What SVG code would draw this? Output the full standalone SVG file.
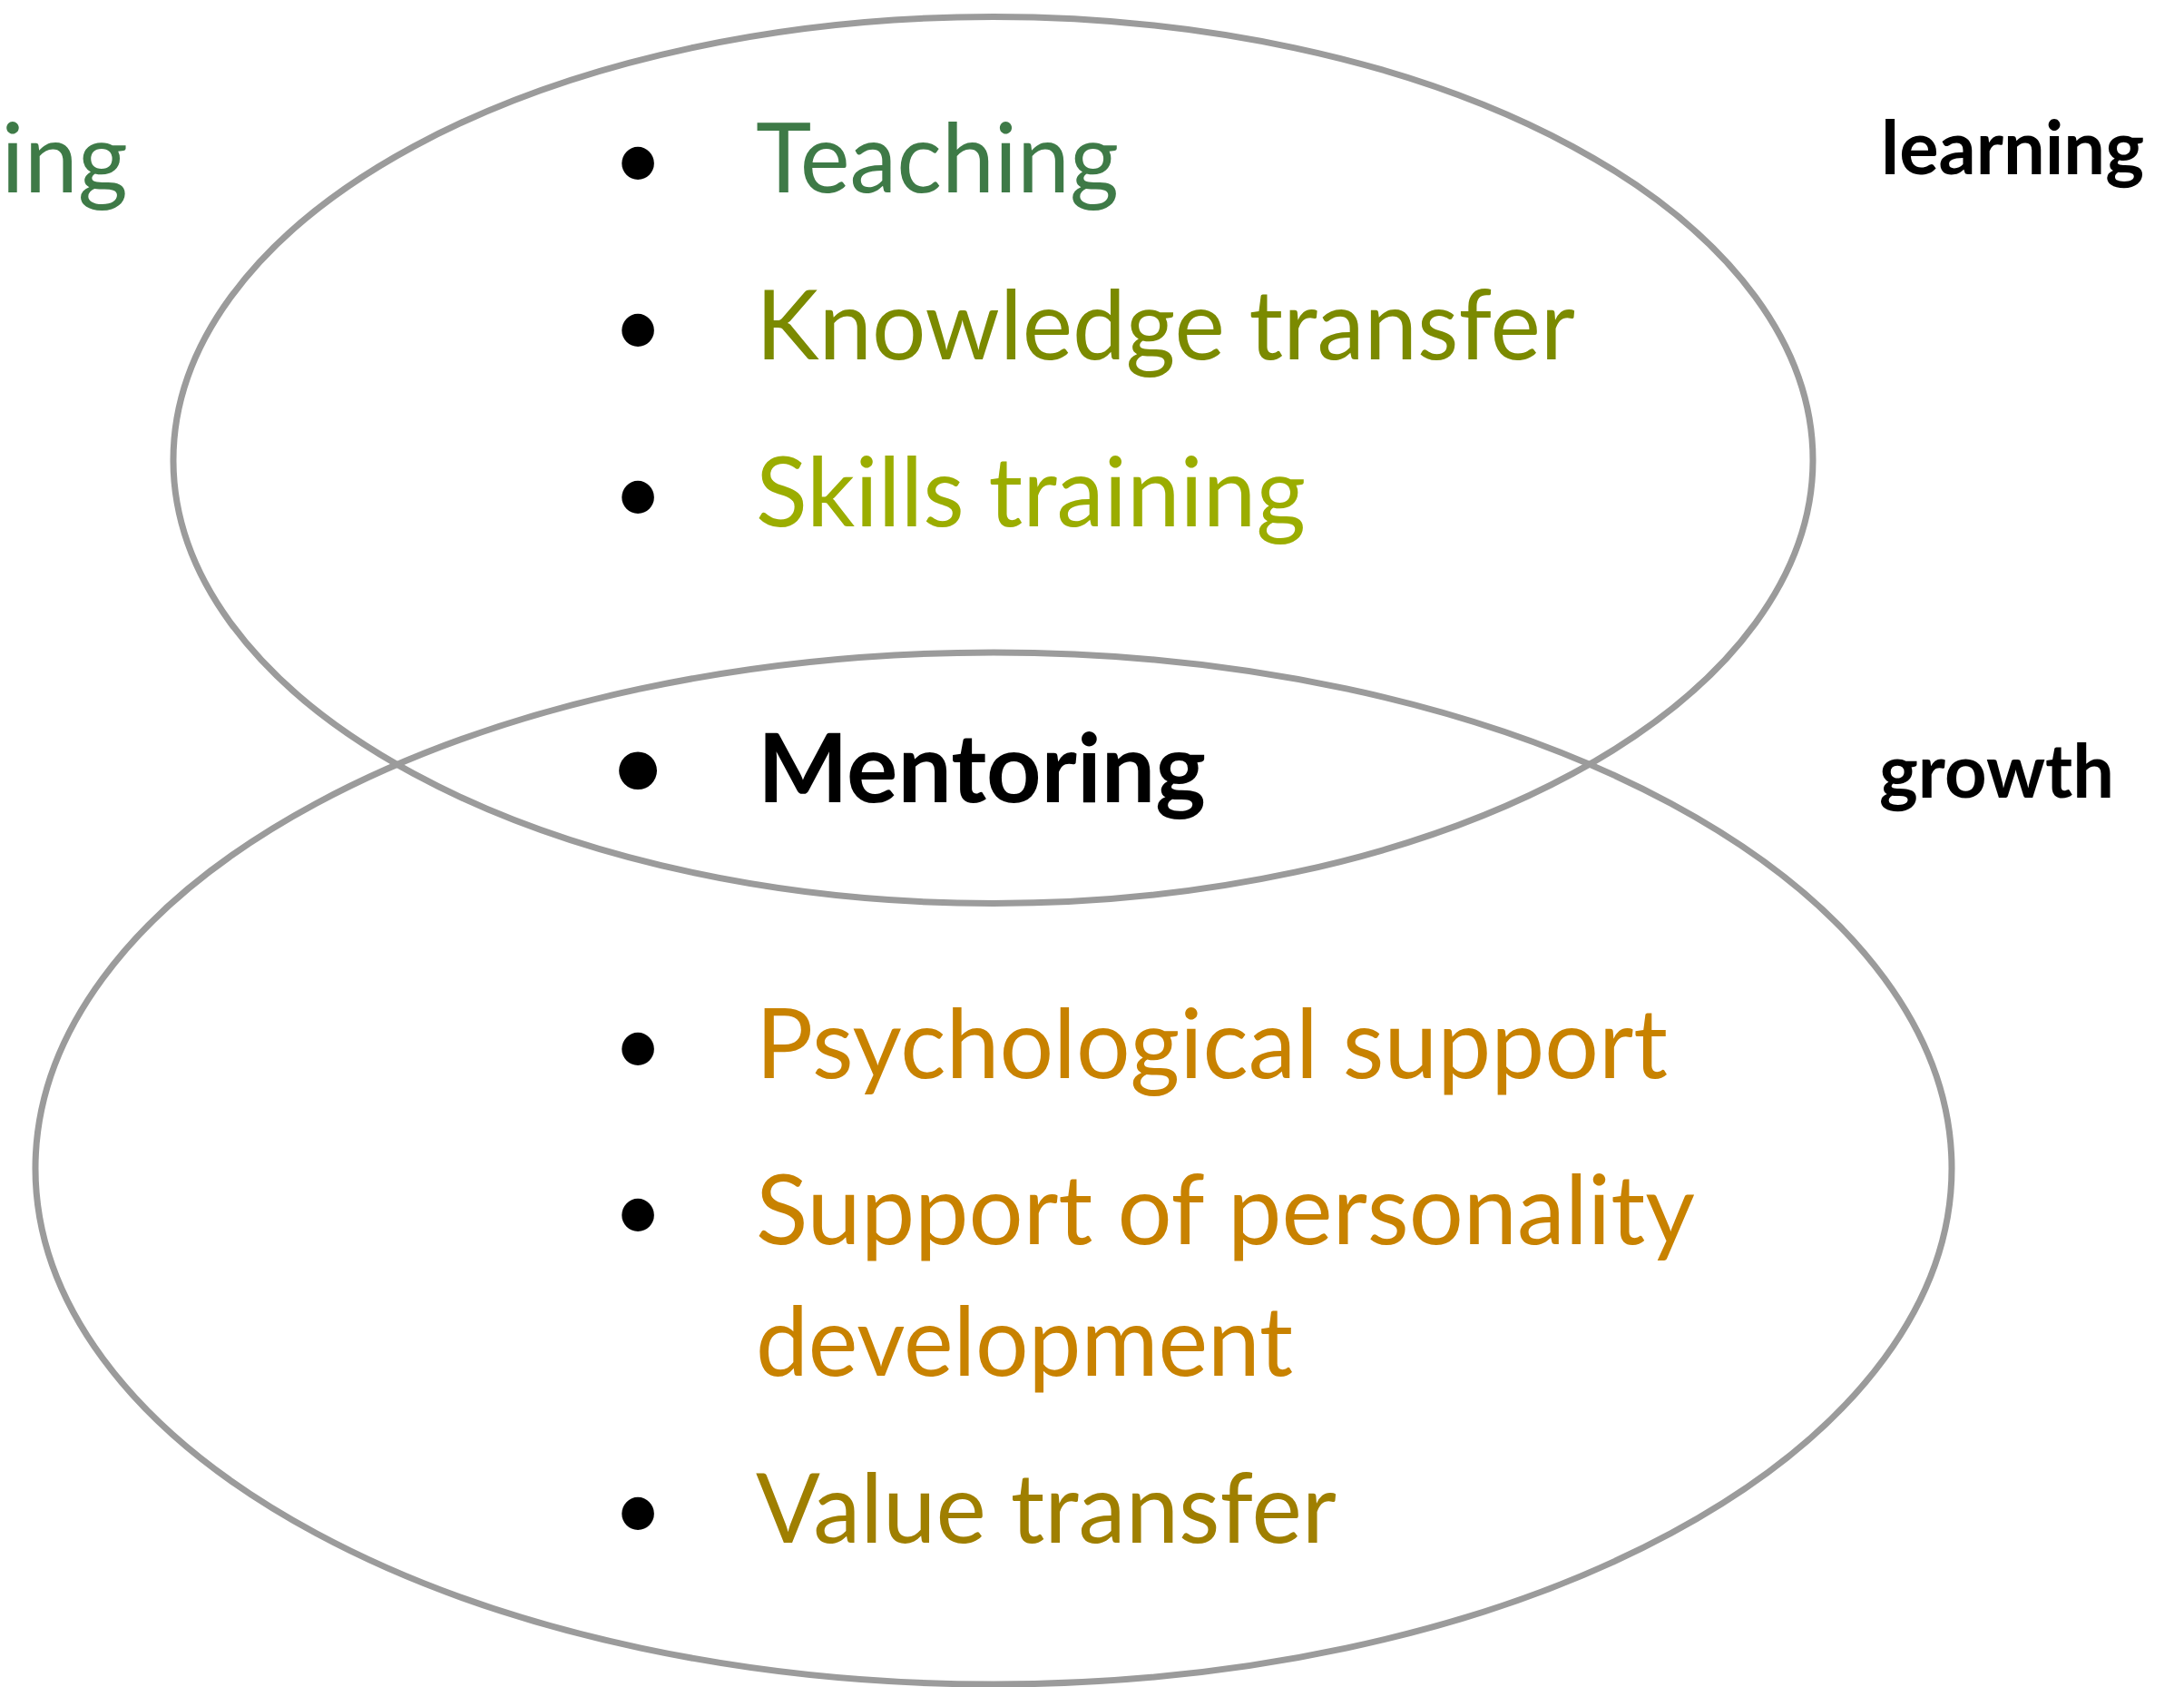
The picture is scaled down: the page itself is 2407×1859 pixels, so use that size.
<svg xmlns="http://www.w3.org/2000/svg" width="2407" height="1859" viewBox="0 0 2407 1859">
  <style>
    .ring { fill: none; stroke: #9b9b9b; stroke-width: 7; }
    .item { font-family: Lato, "Open Sans", "Liberation Sans", sans-serif; font-size: 106px; }
    .bullet { font-family: Lato, "Liberation Sans", sans-serif; font-size: 96px; fill: #000; text-anchor: middle; }
    .bold { font-weight: 700; fill: #000; }
    .label { font-family: Lato, "Open Sans", "Liberation Sans", sans-serif; font-size: 82px; font-weight: 700; fill: #000; }
    .c1 { fill: #3e7a47; }
    .c2 { fill: #7b8a00; }
    .c3 { fill: #9bad00; }
    .c4 { fill: #c88200; }
    .c5 { fill: #9f7f00; }
  </style>
  <rect width="2407" height="1859" fill="#ffffff"/>

  <!-- the two overlapping sets -->
  <g id="connectors">
    <ellipse id="set-learning" class="ring" cx="1094.5" cy="507" rx="903.5" ry="488.5"/>
    <ellipse id="set-growth" class="ring" cx="1095" cy="1287.5" rx="1056" ry="568.5"/>
  </g>

  <!-- word at the left margin -->
  <g id="edge-word">
    <text class="item c1" x="141" y="212" text-anchor="end">ing</text>
  </g>

  <!-- learning-side items -->
  <g id="item-teaching">
    <text class="bullet" x="703" y="209">•</text>
    <text class="item c1" x="833" y="212" textLength="400" lengthAdjust="spacingAndGlyphs">Teaching</text>
  </g>
  <g id="item-knowledge">
    <text class="bullet" x="703" y="393">•</text>
    <text class="item c2" x="833" y="396" textLength="903" lengthAdjust="spacingAndGlyphs">Knowledge transfer</text>
  </g>
  <g id="item-skills">
    <text class="bullet" x="703" y="577">•</text>
    <text class="item c3" x="833" y="580" textLength="606" lengthAdjust="spacingAndGlyphs">Skills training</text>
  </g>

  <!-- overlap -->
  <g id="item-mentoring">
    <text class="bullet bold" x="703" y="878" font-size="108">•</text>
    <text class="item bold" x="835" y="884" textLength="494" lengthAdjust="spacingAndGlyphs">Mentoring</text>
  </g>

  <!-- growth-side items -->
  <g id="item-psych">
    <text class="bullet" x="703" y="1185">•</text>
    <text class="item c4" x="833" y="1188" textLength="1005" lengthAdjust="spacingAndGlyphs">Psychological support</text>
  </g>
  <g id="item-personality">
    <text class="bullet" x="703" y="1368">•</text>
    <text class="item c4" x="833" y="1371" textLength="1035" lengthAdjust="spacingAndGlyphs">Support of personality</text>
    <text class="item c4" x="833" y="1516" textLength="592" lengthAdjust="spacingAndGlyphs">development</text>
  </g>
  <g id="item-values">
    <text class="bullet" x="703" y="1697">•</text>
    <text class="item c5" x="833" y="1700" textLength="640" lengthAdjust="spacingAndGlyphs">Value transfer</text>
  </g>

  <!-- set labels -->
  <g id="label-learning">
    <text class="label" x="2073" y="192" textLength="290" lengthAdjust="spacingAndGlyphs">learning</text>
  </g>
  <g id="label-growth">
    <text class="label" x="2071" y="879" textLength="259" lengthAdjust="spacingAndGlyphs">growth</text>
  </g>
</svg>
